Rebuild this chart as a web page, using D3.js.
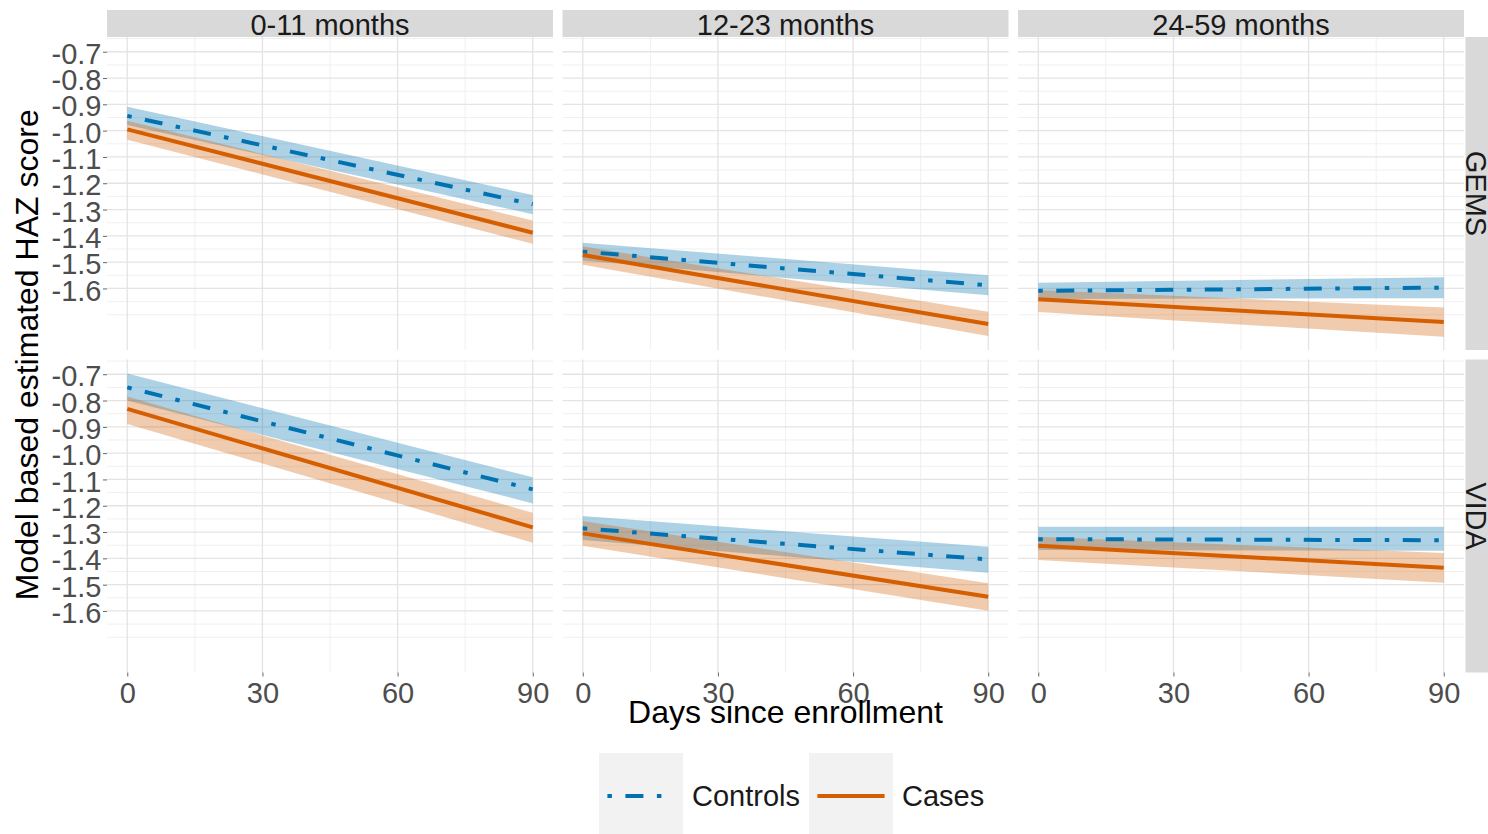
<!DOCTYPE html>
<html>

<head>
    <title>HAZ score by days since enrollment</title>
    <script src="https://d3js.org/d3.v7.min.js"></script>

    <style>
        body {
            margin: 0;
            background: #fff;
        }

        text {
            font-family: "Liberation Sans", Arial, sans-serif;
        }
    </style>
</head>

<body>
    <svg id="chart" width="1488" height="834"></svg>

    <script>
        // facets
        const ageGroups = ["0-11 months", "12-23 months", "24-59 months"];
        const studies = ["GEMS", "VIDA"];
        const groups = ["Controls", "Cases"];
        const days = [0, 90];

        // one entry per panel: GEMS 0-11, 12-23, 24-59, then VIDA 0-11, 12-23, 24-59
        // each entry is [value at day 0, value at day 90]
        const controlsFit = [[-0.944, -1.280], [-1.460, -1.588], [-1.609, -1.597],
                             [-0.750, -1.138], [-1.286, -1.404], [-1.327, -1.331]];
        const controlsHigh = [[-0.909, -1.245], [-1.426, -1.550], [-1.578, -1.557],
                              [-0.697, -1.092], [-1.239, -1.356], [-1.280, -1.280]];
        const controlsLow = [[-0.979, -1.318], [-1.494, -1.626], [-1.640, -1.637],
                             [-0.800, -1.191], [-1.330, -1.455], [-1.368, -1.371]];

        const casesFit = [[-0.995, -1.388], [-1.473, -1.735], [-1.641, -1.728],
                          [-0.832, -1.282], [-1.305, -1.546], [-1.352, -1.436]];
        const casesHigh = [[-0.962, -1.342], [-1.440, -1.689], [-1.606, -1.672],
                           [-0.785, -1.227], [-1.258, -1.495], [-1.318, -1.380]];
        const casesLow = [[-1.035, -1.430], [-1.510, -1.781], [-1.690, -1.784],
                          [-0.889, -1.341], [-1.352, -1.599], [-1.406, -1.493]];

        const xTicks = [0, 30, 60, 90];
        const xMinor = [15, 45, 75];
        const yTicks = [-0.7, -0.8, -0.9, -1.0, -1.1, -1.2, -1.3, -1.4, -1.5, -1.6];
        const yTickLabels = ["-0.7", "-0.8", "-0.9", "-1.0", "-1.1", "-1.2", "-1.3", "-1.4", "-1.5", "-1.6"];
        const yMinor = [-0.65, -0.75, -0.85, -0.95, -1.05, -1.15, -1.25, -1.35, -1.45, -1.55, -1.65, -1.7];

        const colors = { Controls: "#0072B2", Cases: "#D55E00" };
        const dashes = { Controls: "4.5,13.5,18,13.5", Cases: null };

        const svg = d3.select("#chart");

        const panelW = 446, panelH = 313, gap = 9.5;
        const panelLeft = 107, panelTop = 37;

        const x = d3.scaleLinear().domain([-4.5, 94.5]).range([0, panelW]);
        const y = d3.scaleLinear().domain([-1.834, -0.644]).range([panelH, 0]);

        const series = {
            Controls: { fit: controlsFit, low: controlsLow, high: controlsHigh },
            Cases: { fit: casesFit, low: casesLow, high: casesHigh }
        };

        const area = d3.area()
            .x(d => x(d.day))
            .y0(d => y(d.low))
            .y1(d => y(d.high));

        const line = d3.line()
            .x(d => x(d.day))
            .y(d => y(d.fit));

        studies.forEach((study, r) => {
            ageGroups.forEach((age, c) => {
                const k = r * ageGroups.length + c;
                const px = panelLeft + c * (panelW + gap);
                const py = panelTop + r * (panelH + gap);
                const g = svg.append("g").attr("transform", `translate(${px},${py})`);

                // grid
                g.selectAll(".hminor").data(yMinor).join("line")
                    .attr("x1", 0).attr("x2", panelW)
                    .attr("y1", d => y(d)).attr("y2", d => y(d))
                    .attr("stroke", "#F0F0F0").attr("stroke-width", 1);
                g.selectAll(".vminor").data(xMinor).join("line")
                    .attr("y1", 0).attr("y2", panelH)
                    .attr("x1", d => x(d)).attr("x2", d => x(d))
                    .attr("stroke", "#F0F0F0").attr("stroke-width", 1);
                g.selectAll(".hmajor").data(yTicks).join("line")
                    .attr("x1", 0).attr("x2", panelW)
                    .attr("y1", d => y(d)).attr("y2", d => y(d))
                    .attr("stroke", "#E4E4E4").attr("stroke-width", 1.3);
                g.selectAll(".vmajor").data(xTicks).join("line")
                    .attr("y1", 0).attr("y2", panelH)
                    .attr("x1", d => x(d)).attr("x2", d => x(d))
                    .attr("stroke", "#E4E4E4").attr("stroke-width", 1.3);

                // ribbons first, then lines
                groups.forEach(grp => {
                    const s = series[grp];
                    const pts = days.map((day, i) => ({
                        day: day,
                        fit: s.fit[k][i],
                        low: s.low[k][i],
                        high: s.high[k][i]
                    }));
                    g.append("path")
                        .datum(pts)
                        .attr("d", area)
                        .attr("fill", colors[grp])
                        .attr("fill-opacity", 0.32);
                });
                groups.forEach(grp => {
                    const s = series[grp];
                    const pts = days.map((day, i) => ({ day: day, fit: s.fit[k][i] }));
                    g.append("path")
                        .datum(pts)
                        .attr("d", line)
                        .attr("fill", "none")
                        .attr("stroke", colors[grp])
                        .attr("stroke-width", 4)
                        .attr("stroke-dasharray", dashes[grp]);
                });

                if (c === 0) {
                    const ya = g.append("g")
                        .call(d3.axisLeft(y).tickValues(yTicks)
                            .tickFormat((d, i) => yTickLabels[i])
                            .tickSize(4).tickPadding(1.5));
                    ya.select(".domain").remove();
                    ya.selectAll(".tick line").attr("stroke", "#666");
                    ya.selectAll(".tick text")
                        .attr("dy", "0.4em")
                        .style("font-family", "'Liberation Sans', Arial, sans-serif")
                        .style("font-size", "29px")
                        .attr("fill", "#4D4D4D");
                }

                if (r === studies.length - 1) {
                    const xa = g.append("g")
                        .attr("transform", `translate(0,${panelH})`)
                        .call(d3.axisBottom(x).tickValues(xTicks)
                            .tickFormat(d3.format("d"))
                            .tickSize(4).tickPadding(6.4));
                    xa.select(".domain").remove();
                    xa.selectAll(".tick line").attr("stroke", "#666");
                    xa.selectAll(".tick text")
                        .style("font-family", "'Liberation Sans', Arial, sans-serif")
                        .style("font-size", "29px")
                        .attr("fill", "#4D4D4D");
                }
            });
        });

        // top strips
        ageGroups.forEach((age, c) => {
            const px = panelLeft + c * (panelW + gap);
            svg.append("rect")
                .attr("x", px).attr("y", 10)
                .attr("width", panelW).attr("height", 27)
                .attr("fill", "#D9D9D9");
            svg.append("text")
                .attr("x", px + panelW / 2).attr("y", 34.5)
                .attr("text-anchor", "middle")
                .style("font-size", "29px")
                .attr("fill", "#1A1A1A")
                .text(age);
        });

        // right strips
        studies.forEach((study, r) => {
            const py = panelTop + r * (panelH + gap);
            svg.append("rect")
                .attr("x", 1465.5).attr("y", py)
                .attr("width", 30).attr("height", panelH)
                .attr("fill", "#D9D9D9");
            svg.append("text")
                .attr("transform", `translate(1476,${py + panelH / 2}) rotate(90)`)
                .attr("dy", "0.36em")
                .attr("text-anchor", "middle")
                .style("font-size", "29px")
                .attr("fill", "#1A1A1A")
                .text(study);
        });

        // axis titles
        svg.append("text")
            .attr("x", panelLeft + (3 * panelW + 2 * gap) / 2)
            .attr("y", 723)
            .attr("text-anchor", "middle")
            .style("font-size", "32px")
            .text("Days since enrollment");

        svg.append("text")
            .attr("transform", `translate(38,${panelTop + panelH + gap / 2}) rotate(-90)`)
            .attr("text-anchor", "middle")
            .style("font-size", "32px")
            .text("Model based estimated HAZ score");

        // legend
        const keyX = [599, 809];
        const legend = svg.append("g");
        groups.forEach((grp, i) => {
            legend.append("rect")
                .attr("x", keyX[i]).attr("y", 753)
                .attr("width", 84).attr("height", 84)
                .attr("fill", "#F2F2F2");
            legend.append("line")
                .attr("x1", keyX[i] + 8.4).attr("x2", keyX[i] + 75.6)
                .attr("y1", 796).attr("y2", 796)
                .attr("stroke", colors[grp])
                .attr("stroke-width", 4)
                .attr("stroke-dasharray", dashes[grp]);
            legend.append("text")
                .attr("x", keyX[i] + 93).attr("y", 796)
                .attr("dy", "0.36em")
                .style("font-size", "29px")
                .attr("fill", "#1A1A1A")
                .text(grp);
        });
    </script>
</body>

</html>
